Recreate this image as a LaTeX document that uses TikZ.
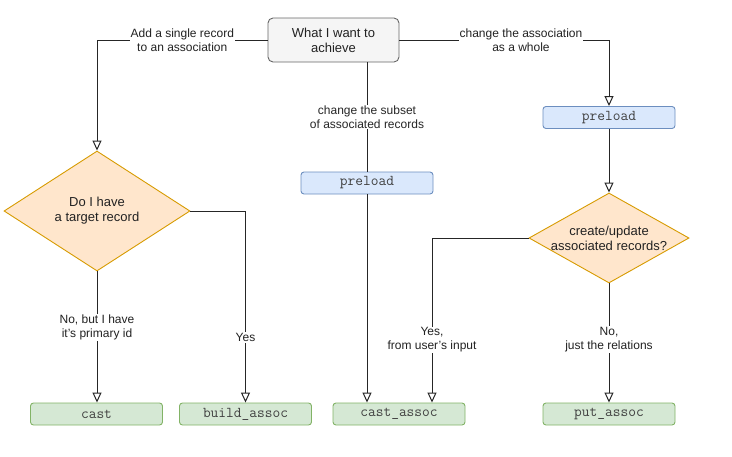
\documentclass[tikz,border=0pt]{standalone}
\usepackage{fontspec}
\setmainfont{Liberation Sans}
\usetikzlibrary{arrows.meta,shapes.geometric}
\definecolor{startfill}{HTML}{F5F5F5}
\definecolor{startline}{HTML}{666666}
\definecolor{codefill}{HTML}{DAE8FC}
\definecolor{codeline}{HTML}{6C8EBF}
\definecolor{fnfill}{HTML}{D5E8D4}
\definecolor{fnline}{HTML}{82B366}
\definecolor{askfill}{HTML}{FFE6CC}
\definecolor{askline}{HTML}{D79B00}
\definecolor{ink}{HTML}{222222}
\begin{document}
\begin{tikzpicture}[x=1pt,y=-1pt,text=ink,
  start/.style={draw=startline,fill=startfill,line width=0.9pt,rounded corners=5pt,minimum width=131pt,minimum height=44pt,align=center,font=\fontsize{13}{15}\selectfont},
  code/.style={draw=codeline,fill=codefill,line width=0.9pt,rounded corners=3pt,minimum width=132pt,minimum height=22pt,inner sep=0pt,text=black!75,font=\ttfamily\fontsize{15}{17}\selectfont},
  fn/.style={draw=fnline,fill=fnfill,line width=0.9pt,rounded corners=3pt,minimum width=132pt,minimum height=22pt,inner sep=0pt,text=black!75,font=\ttfamily\fontsize{15}{17}\selectfont},
  ask/.style={diamond,draw=askline,fill=askfill,line width=0.9pt,inner sep=0pt,align=center,font=\fontsize{13}{15}\selectfont},
  lbl/.style={fill=white,inner sep=1pt,align=center,font=\fontsize{12}{14}\selectfont},
  flow/.style={draw=black!85,line width=1pt,-{Triangle[open,length=10pt,width=9pt]}}]
\useasboundingbox (0,0) rectangle (732,456);

\node[start] (goal) at (333.5,40) {What I want to\\achieve};
\node[code] (preA) at (367,183) {preload};
\node[code] (preB) at (609,117.5) {preload};
\node[ask,minimum width=186pt,minimum height=120pt,aspect=1.55] (target) at (97,211) {Do I have\\a target record};
\node[ask,minimum width=160pt,minimum height=90pt,aspect=1.78] (update) at (609,238) {create/update\\associated records?};
\node[fn] (cast) at (96.5,414) {cast};
\node[fn] (build) at (245.5,414) {build\_assoc};
\node[fn] (castassoc) at (399,414) {cast\_assoc};
\node[fn] (put) at (609,414) {put\_assoc};

\draw[flow] (goal.west) -| node[lbl,pos=0.25] {Add a single record\\to an association} (target.north);
\draw[flow] (goal.east) -| node[lbl,pos=0.29] {change the association\\as a whole} (preB.north);
\draw[line width=1pt,black!85] (goal.south -| preA.north) -- node[lbl] {change the subset\\of associated records} (preA.north);
\draw[flow] (preA.south) -- (preA.south |- castassoc.north);
\draw[flow] (preB.south) -- (update.north);
\draw[flow] (target.south) -- node[lbl,pos=0.43] {No, but I have\\it's primary id} (target.south |- cast.north);
\draw[flow] (target.east) -| node[lbl,pos=0.83] {Yes} (build.north);
\draw[flow] (update.west) -| node[lbl,pos=0.81] {Yes,\\from user's input} ([xshift=33pt]castassoc.north);
\draw[flow] (update.south) -- node[lbl,pos=0.47] {No,\\just the relations} (put.north);
\end{tikzpicture}
\end{document}
